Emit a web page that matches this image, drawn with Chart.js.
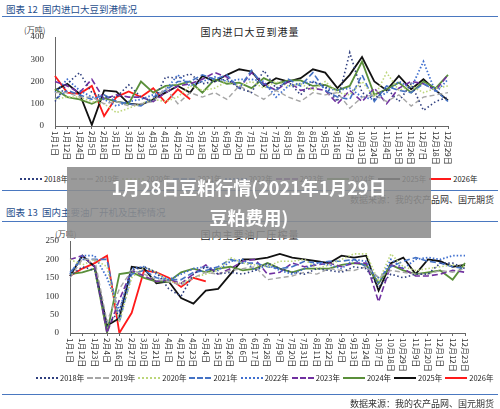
<!DOCTYPE html>
<html><head><meta charset="utf-8">
<script src="https://cdn.jsdelivr.net/npm/chart.js@4"></script>
<style>
body{margin:0;width:500px;height:409px;background:#fff;position:relative;overflow:hidden;font-family:"Noto Sans CJK SC",sans-serif}
.abs{position:absolute}
.hdr{font-size:9.5px;color:#1f4e8c;left:6px}
.rule{left:2px;width:496px;height:0;border-top:1px solid #4a78c0}
.ttl{font-size:10px;color:#222;width:500px;text-align:center;letter-spacing:1px}
.src{font-size:9px;color:#333;right:6px}
.unit{font-size:8px;color:#444}
.leg{font-size:7.5px;color:#222;display:flex;white-space:nowrap}
.leg span{display:inline-flex;align-items:center;margin-right:3px}
.leg i{display:inline-block;width:22px;margin-right:2px}
#ov{left:67px;top:167px;width:364px;height:71px;background:rgba(140,140,140,0.88);color:#fff;font-weight:bold;font-size:18px;text-align:center;line-height:30px;padding-top:5px;box-sizing:border-box}
canvas{position:absolute;left:0}
</style></head><body>
<div class="abs hdr" style="top:2px">图表 12&nbsp; 国内进口大豆到港情况</div>
<div class="abs rule" style="top:16px"></div>
<div class="abs ttl" style="top:24px">国内进口大豆到港量</div>
<div class="abs unit" style="left:24px;top:24px">(万吨)</div>
<div style="position:absolute;left:0;top:28px;width:500px;height:145px"><canvas id="c1"></canvas></div>
<div class="abs leg" id="l1" style="top:173px;left:20px"></div>
<div class="abs rule" style="top:190px"></div>
<div class="abs src" style="top:193px">数据来源：我的农产品网、国元期货</div>

<div class="abs hdr" style="top:205px">图表 13&nbsp; 国内主要油厂开机及压榨情况</div>
<div class="abs rule" style="top:221px"></div>
<div class="abs ttl" style="top:227px">国内主要油厂压榨量</div>
<div class="abs unit" style="left:55px;top:228px">(万吨)</div>
<div style="position:absolute;left:0;top:232px;width:500px;height:148px"><canvas id="c2"></canvas></div>
<div class="abs leg" id="l2" style="top:372px;left:36px"></div>
<div class="abs rule" style="top:394px"></div>
<div class="abs src" style="top:397px">数据来源：我的农产品网、国元期货</div>

<div class="abs" id="ov">1月28日豆粕行情(2021年1月29日<br>豆粕费用)</div>
<script>
const years=["2018年","2019年","2020年","2021年","2022年","2023年","2024年","2025年","2026年"];
const labels1=["1月1日","1月12日","1月24日","2月5日","2月18日","3月1日","3月12日","3月23日","4月3日","4月14日","4月25日","5月7日","5月18日","5月29日","6月9日","6月20日","7月1日","7月12日","7月23日","8月3日","8月14日","8月25日","9月5日","9月16日","9月27日","10月13日","10月24日","11月4日","11月15日","11月26日","12月7日","12月18日","12月29日"];
const labels2=["1月1日","1月12日","1月23日","2月4日","2月16日","2月27日","3月10日","3月21日","4月1日","4月12日","4月23日","5月4日","5月15日","5月26日","6月6日","6月17日","6月28日","7月9日","7月20日","7月31日","8月11日","8月22日","9月2日","9月13日","9月24日","10月7日","10月18日","10月29日","11月9日","11月20日","12月1日","12月12日","12月23日"];
const yTicks1=[0,100,200,300,400];
const yTicks2=[0,50,100,150,200,250];
const a2018=[110,190,240,150,130,130,185,130,110,220,215,235,190,200,210,170,150,250,170,200,140,200,180,110,330,150,120,170,110,190,70,110,130];
const a2019=[150,150,130,130,100,110,90,100,110,170,100,150,130,150,120,180,150,120,160,130,110,150,140,150,80,130,140,110,140,90,130,140,150];
const a2020=[120,130,130,110,100,60,80,100,120,110,130,180,160,170,200,180,200,170,200,180,190,160,200,150,140,200,130,240,160,180,150,170,180];
const a2021=[120,160,140,120,140,110,100,90,130,160,200,200,230,210,230,170,250,180,160,210,180,240,160,130,120,230,110,180,160,150,190,160,110];
const a2022=[150,210,160,130,120,90,110,120,140,160,230,180,200,220,200,210,210,200,130,180,190,200,170,160,170,130,120,150,200,170,290,150,210];
const a2023=[200,180,150,210,120,140,130,130,110,150,180,190,210,240,220,170,240,190,160,200,160,170,160,100,160,110,170,100,170,200,190,160,230];
const a2024=[165,130,120,100,125,110,100,200,150,180,185,200,150,210,190,195,170,215,190,205,205,180,185,160,180,290,140,165,195,150,200,170,230];
const a2025=[160,190,145,5,160,155,100,95,120,150,180,150,225,200,230,255,245,180,215,200,215,255,240,170,230,310,200,160,225,165,210,160,115];
const a2026=[225,150,145,180,45,130,155,130,170,105,165,120];
const b2018=[155,180,170,20,60,170,180,165,120,100,160,180,160,165,160,170,190,175,165,160,175,170,165,180,175,125,160,150,160,160,190,190,175];
const b2019=[150,200,200,30,120,170,160,145,140,130,150,165,160,170,175,180,145,150,155,165,160,175,170,170,180,150,170,165,160,160,170,165,175];
const b2020=[200,185,200,180,30,150,180,165,140,135,150,160,170,205,190,185,180,195,195,200,175,185,200,215,215,140,215,180,170,175,180,185,180];
const b2021=[165,200,200,200,30,160,170,150,145,145,165,170,180,200,190,190,180,175,180,195,190,195,195,200,180,150,180,195,205,195,190,180,175];
const b2022=[160,210,210,150,60,175,180,160,145,160,175,180,170,195,200,170,185,170,160,175,190,185,175,200,195,135,200,175,200,205,200,210,210];
const b2023=[200,210,180,0,90,170,155,140,145,135,160,185,160,175,195,200,160,165,190,180,185,190,180,190,190,85,185,175,155,155,160,170,165];
const b2024=[160,165,175,0,160,165,150,140,140,165,175,165,175,180,170,175,190,175,165,175,175,175,185,190,185,135,185,170,160,165,170,145,190];
const b2025=[155,210,180,20,40,180,175,135,140,95,80,115,120,160,200,200,205,215,205,200,195,190,210,205,210,115,190,205,160,200,195,180,185];
const b2026=[155,175,190,210,0,55,170,165,150,125,150,140];
const styles=[
 {c:"#2f3f7f",d:[1.5,2.5],w:1.6,css:"dotted"},
 {c:"#a6a6a6",d:[5,3],w:1.4,css:"dashed"},
 {c:"#bcd67a",d:[1.5,2],w:1.6,css:"dotted"},
 {c:"#4472c4",d:[6,3],w:1.6,css:"dashed"},
 {c:"#3f6fcf",d:[1.5,2],w:1.8,css:"dotted"},
 {c:"#7030a0",d:[6,3],w:1.6,css:"dashed"},
 {c:"#5a8f3a",d:[],w:1.8,css:"solid"},
 {c:"#111111",d:[],w:1.8,css:"solid"},
 {c:"#ff1a1a",d:[],w:1.8,css:"solid"}];
function legend(id){document.getElementById(id).innerHTML=years.map((y,i)=>`<span><i style="border-top:2px ${styles[i].css} ${styles[i].c}"></i>${y}</span>`).join("");}
legend("l1");legend("l2");
const labPlugin={id:"vlab",afterDraw(ch){const x=ch.scales.x,ctx=ch.ctx;ctx.save();ctx.font='8px "Noto Sans CJK SC"';ctx.fillStyle="#333";ctx.textBaseline="middle";
 ch.data.labels.forEach((l,i)=>{const px=x.getPixelForTick(i);ctx.save();ctx.translate(px,x.top+5);ctx.rotate(Math.PI/2);ctx.fillText(l,0,0);ctx.restore();});ctx.restore();}};
function make(id,labels,sets,ticks,yw,padR){
 new Chart(document.getElementById(id),{type:"line",plugins:[labPlugin],
 data:{labels,datasets:sets.map((d,i)=>({label:years[i],data:d,borderColor:styles[i].c,borderDash:styles[i].d,borderWidth:styles[i].w,pointRadius:0,tension:0,fill:false}))},
 options:{responsive:true,maintainAspectRatio:false,animation:false,layout:{padding:{top:9,right:padR,left:0,bottom:0}},
 plugins:{legend:{display:false},tooltip:{enabled:false}},
 scales:{x:{offset:false,ticks:{display:false},grid:{drawOnChartArea:false,tickLength:3,color:"#666"},border:{color:"#666"},afterFit:s=>{s.height=47}},
 y:{min:0,max:ticks[ticks.length-1],afterBuildTicks:s=>{s.ticks=ticks.map(v=>({value:v}))},ticks:{font:{family:"Liberation Serif",size:9},color:"#333",padding:3},grid:{display:false},border:{color:"#666"},afterFit:s=>{s.width=yw}}}}});
}
make("c1",labels1,[a2018,a2019,a2020,a2021,a2022,a2023,a2024,a2025,a2026],yTicks1,55,52);
make("c2",labels2,[b2018,b2019,b2020,b2021,b2022,b2023,b2024,b2025,b2026],yTicks2,70,35);
</script></body></html>
